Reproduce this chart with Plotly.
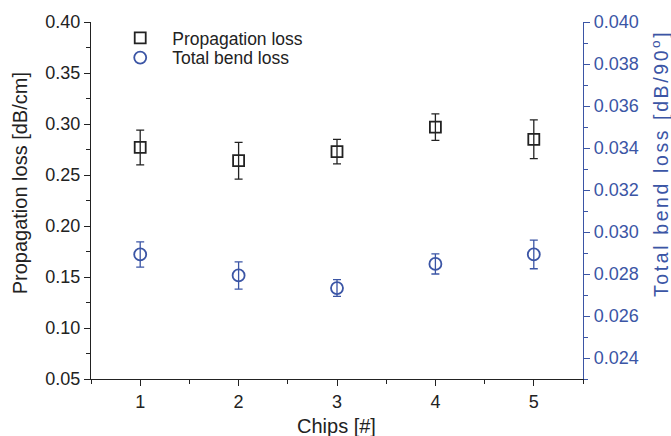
import plotly.graph_objects as go

# Measured values per chip
chips = [1, 2, 3, 4, 5]
prop_loss = [0.277, 0.264, 0.273, 0.297, 0.285]          # dB/cm
prop_err = [0.017, 0.018, 0.012, 0.013, 0.019]
bend_loss = [0.02893, 0.02793, 0.02733, 0.02848, 0.02893]  # dB/90°
bend_err = [0.0006, 0.00065, 0.0004, 0.00048, 0.00068]

x_ticks = [1, 2, 3, 4, 5]
left_ticks = [0.05, 0.10, 0.15, 0.20, 0.25, 0.30, 0.35, 0.40]
right_ticks = [0.024, 0.026, 0.028, 0.030, 0.032, 0.034, 0.036, 0.038, 0.040]

BLACK = "#222222"
BLUE = "#3b55a5"
FONT = "Liberation Sans, Arial, sans-serif"

fig = go.Figure()

fig.add_trace(go.Scatter(
    x=chips, y=prop_loss, mode="markers", name="Propagation loss",
    marker=dict(symbol="square-open", size=11, color=BLACK, line=dict(width=1.8, color=BLACK)),
    error_y=dict(type="data", array=prop_err, visible=True, color=BLACK, thickness=1.3, width=4),
    yaxis="y", legend="legend",
))

fig.add_trace(go.Scatter(
    x=chips, y=bend_loss, mode="markers", name="Total bend loss",
    marker=dict(symbol="circle-open", size=12, color=BLUE, line=dict(width=1.8, color=BLUE)),
    error_y=dict(type="data", array=bend_err, visible=True, color=BLUE, thickness=1.3, width=4),
    yaxis="y2", legend="legend2",
))

axis_common = dict(
    showgrid=False, zeroline=False, showline=True, linewidth=1.3,
    ticks="outside", ticklen=6, tickwidth=1.3,
)

legend_common = dict(
    xanchor="left", yanchor="middle", bgcolor="rgba(0,0,0,0)",
    font=dict(size=17.5, color=BLACK), itemwidth=54,
)

fig.update_layout(
    width=671, height=436,
    margin=dict(l=91, r=88, t=19, b=57),
    paper_bgcolor="white", plot_bgcolor="white",
    font=dict(family=FONT, size=18, color=BLACK),
    showlegend=True,
    legend=dict(x=0.035, y=0.955, **legend_common),
    legend2=dict(x=0.035, y=0.9, **legend_common),
    xaxis=dict(
        **axis_common, range=[0.5, 5.5], tickvals=x_ticks, linecolor=BLACK, tickcolor=BLACK,
        minor=dict(dtick=0.5, tick0=0.5, ticks="outside", ticklen=4, tickwidth=1.3, tickcolor=BLACK),
        tickfont=dict(size=18, color=BLACK),
    ),
    yaxis=dict(
        **axis_common, range=[0.05, 0.40], tickvals=left_ticks, tickformat=".2f",
        linecolor=BLACK, tickcolor=BLACK,
        minor=dict(dtick=0.025, tick0=0.05, ticks="outside", ticklen=4, tickwidth=1.3, tickcolor=BLACK),
        tickfont=dict(size=18, color=BLACK),
    ),
    yaxis2=dict(
        **axis_common, range=[0.023, 0.040], tickvals=right_ticks, tickformat=".3f",
        overlaying="y", side="right", anchor="x",
        linecolor=BLUE, tickcolor=BLUE,
        minor=dict(dtick=0.001, tick0=0.023, ticks="outside", ticklen=4, tickwidth=1.3, tickcolor=BLUE),
        tickfont=dict(size=18, color=BLUE),
    ),
    annotations=[
        dict(text="Chips [#]", xref="paper", yref="paper", x=0.498, y=-0.1325,
             xanchor="center", yanchor="middle", showarrow=False,
             font=dict(size=20, color=BLACK)),
        dict(text="Propagation loss [dB/cm]", xref="paper", yref="paper", x=-0.1436, y=0.549,
             xanchor="center", yanchor="middle", textangle=-90, showarrow=False,
             font=dict(size=20, color=BLACK)),
        dict(text='<span style="letter-spacing:2.6px">Total bend loss [dB/90<sup>o</sup>]</span>',
             xref="paper", yref="paper", x=1.155, y=0.603,
             xanchor="center", yanchor="middle", textangle=-90, showarrow=False,
             font=dict(size=19.5, color=BLUE)),
    ],
)

fig.write_html("out.html")
